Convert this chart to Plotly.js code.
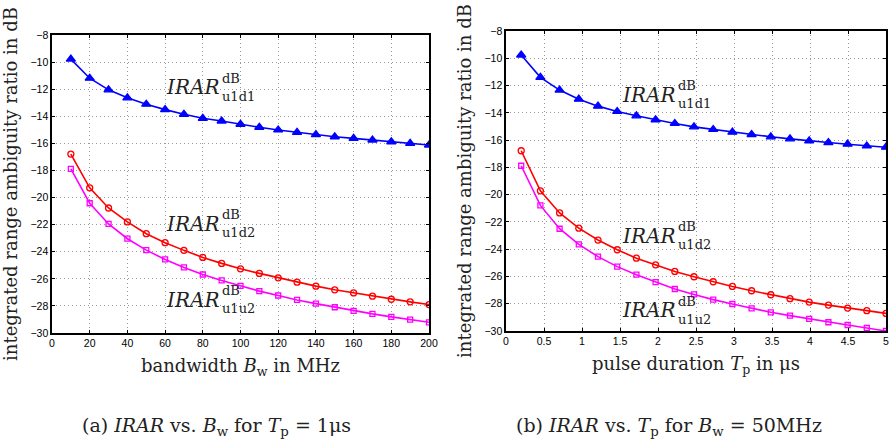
<!DOCTYPE html>
<html>
<head>
<meta charset="utf-8">
<script src="https://cdn.plot.ly/plotly-3.0.1.min.js"></script>
<style>html,body{margin:0;padding:0;background:#fff;}#chart{width:892px;height:440px;}</style>
</head>
<body>
<div id="chart"></div>
<script>
// (a) IRAR vs bandwidth Bw (MHz), Tp = 1 us
const bandwidth = [10,20,30,40,50,60,70,80,90,100,110,120,130,140,150,160,170,180,190,200];
const a_u1d1 = [-9.78,-11.19,-12.05,-12.64,-13.11,-13.51,-13.85,-14.15,-14.35,-14.59,-14.81,-15.01,-15.19,-15.36,-15.51,-15.63,-15.75,-15.88,-16.00,-16.12];
const a_u1d2 = [-16.79,-19.28,-20.77,-21.80,-22.67,-23.33,-23.90,-24.42,-24.86,-25.26,-25.60,-25.93,-26.25,-26.54,-26.81,-27.04,-27.28,-27.51,-27.70,-27.90];
const a_u1u2 = [-17.88,-20.42,-21.95,-23.04,-23.88,-24.57,-25.16,-25.68,-26.12,-26.52,-26.91,-27.23,-27.56,-27.83,-28.10,-28.37,-28.59,-28.81,-29.01,-29.21];

// (b) IRAR vs pulse duration Tp (us), Bw = 50 MHz
const pulseDuration = [0.2,0.4526,0.7053,0.9579,1.2105,1.4632,1.7158,1.9684,2.2211,2.4737,2.7263,2.9789,3.2316,3.4842,3.7368,3.9895,4.2421,4.4947,4.7474,5.0];
const b_u1d1 = [-9.76,-11.40,-12.33,-13.00,-13.51,-13.90,-14.22,-14.51,-14.78,-15.03,-15.22,-15.42,-15.59,-15.76,-15.91,-16.06,-16.18,-16.30,-16.43,-16.52];
const b_u1d2 = [-16.78,-19.72,-21.34,-22.46,-23.33,-24.04,-24.66,-25.15,-25.63,-26.02,-26.39,-26.73,-27.05,-27.34,-27.63,-27.88,-28.10,-28.32,-28.51,-28.71];
const b_u1u2 = [-17.88,-20.79,-22.50,-23.65,-24.55,-25.28,-25.87,-26.41,-26.92,-27.32,-27.70,-28.02,-28.34,-28.63,-28.87,-29.11,-29.36,-29.56,-29.78,-30.00];

// label positions (data coords) and texts
const labelNames = ['u1d1','u1d2','u1u2'];
const labelA = {x:[89.7,89.7,89.7], y:[-11.84,-21.95,-27.56]};
const labelB = {x:[2.25,2.25,2.25], y:[-12.66,-23.01,-28.46]};

const xTitleA = 'bandwidth <i>B</i><sub>w</sub> in MHz';
const xTitleB = 'pulse duration <i>T</i><sub>p</sub> in μs';
const yTitle = 'integrated range ambiguity ratio in dB';
const captionA = '(a) <i>IRAR</i> vs. <i>B</i><sub>w</sub> for <i>T</i><sub>p</sub> = 1μs';
const captionB = '(b) <i>IRAR</i> vs. <i>T</i><sub>p</sub> for <i>B</i><sub>w</sub> = 50MHz';

const SERIF = 'DejaVu Serif';
const SANS = 'Liberation Sans, Arial, sans-serif';

function series(x, y, color, symbol, size, xa, ya) {
  return {x:x, y:y, xaxis:xa, yaxis:ya, type:'scatter', mode:'lines+markers',
    line:{color:color, width:1.6},
    marker:{color:color, symbol:symbol, size:size, line:{color:color, width:1.3}}};
}

const data = [
  series(bandwidth, a_u1d1, '#0000ff', 'triangle-up', 8, 'x', 'y'),
  series(bandwidth, a_u1d2, '#ff0000', 'circle-open', 6, 'x', 'y'),
  series(bandwidth, a_u1u2, '#ff00ff', 'square-open', 5, 'x', 'y'),
  series(pulseDuration, b_u1d1, '#0000ff', 'triangle-up', 8, 'x2', 'y2'),
  series(pulseDuration, b_u1d2, '#ff0000', 'circle-open', 6, 'x2', 'y2'),
  series(pulseDuration, b_u1u2, '#ff00ff', 'square-open', 5, 'x2', 'y2')
];

const GRID = '#9a9a9a';
function xaxis(domain, range, dtick, title, anchor) {
  return {domain:domain, range:range, dtick:dtick, tick0:0, anchor:anchor,
    showgrid:true, gridcolor:GRID, griddash:'1px,3px', gridwidth:1,
    showline:true, mirror:'ticks', linecolor:'#000', linewidth:1.6,
    ticks:'inside', ticklen:3, tickcolor:'#000', zeroline:false,
    tickfont:{family:SANS, size:10.5, color:'#000'},
    title:{text:title, font:{family:SERIF, size:18, color:'#222'}, standoff:11},
    automargin:false, fixedrange:true};
}
function yaxis(domain, title, anchor) {
  return {domain:domain, range:[-30,-8], dtick:2, tick0:0, anchor:anchor,
    showgrid:true, gridcolor:GRID, griddash:'1px,3px', gridwidth:1,
    showline:true, mirror:'ticks', linecolor:'#000', linewidth:1.6,
    ticks:'inside', ticklen:3, tickcolor:'#000', zeroline:false,
    tickfont:{family:SANS, size:10.5, color:'#000'},
    title:{text:title, font:{family:SERIF, size:18, color:'#222'}, standoff:8},
    automargin:false, fixedrange:true};
}

const annotations = [];
function addLabels(pos, xref, yref) {
  for (let i = 0; i < labelNames.length; i++) {
    annotations.push({x:pos.x[i], y:pos.y[i], xref:xref, yref:yref, text:'<i>IRAR</i>',
      showarrow:false, xanchor:'right', yanchor:'middle',
      font:{family:SERIF, size:20, color:'#222'}});
    annotations.push({x:pos.x[i], y:pos.y[i], xref:xref, yref:yref, text:'dB',
      showarrow:false, xanchor:'left', yanchor:'middle', xshift:-1, yshift:9,
      font:{family:SERIF, size:13, color:'#222'}});
    annotations.push({x:pos.x[i], y:pos.y[i], xref:xref, yref:yref, text:labelNames[i],
      showarrow:false, xanchor:'left', yanchor:'middle', xshift:-1, yshift:-9,
      font:{family:SERIF, size:13, color:'#222'}});
  }
}
addLabels(labelA, 'x', 'y');
addLabels(labelB, 'x2', 'y2');
annotations.push({x:216/892, y:1-426/440, xref:'paper', yref:'paper', text:captionA,
  showarrow:false, xanchor:'center', yanchor:'middle', font:{family:SERIF, size:19, color:'#222'}});
annotations.push({x:669/892, y:1-426/440, xref:'paper', yref:'paper', text:captionB,
  showarrow:false, xanchor:'center', yanchor:'middle', font:{family:SERIF, size:19, color:'#222'}});

const layout = {
  width:892, height:440, margin:{l:0, r:0, t:0, b:0},
  paper_bgcolor:'#fff', plot_bgcolor:'#fff', showlegend:false,
  xaxis: xaxis([52/892, 429/892], [0,200], 20, xTitleA, 'y'),
  yaxis: yaxis([1-333/440, 1-35/440], yTitle, 'x'),
  xaxis2: xaxis([506/892, 886/892], [0,5], 0.5, xTitleB, 'y2'),
  yaxis2: yaxis([1-331/440, 1-31/440], yTitle, 'x2'),
  annotations: annotations
};

Plotly.newPlot('chart', data, layout, {displayModeBar:false, staticPlot:true});
</script>
</body>
</html>
